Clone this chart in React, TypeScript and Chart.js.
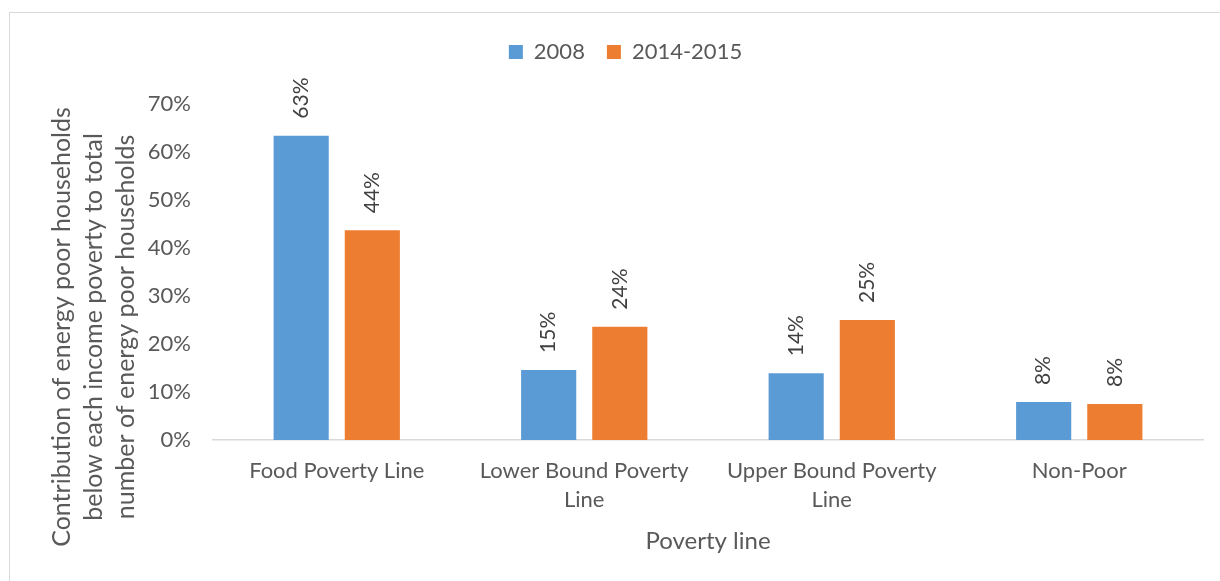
import React, { useEffect, useRef } from "react";
import { Chart, registerables } from "chart.js";

Chart.register(...registerables);

// Categories (multi-line tick labels) and series values, in percent
const categories: string[][] = [
  ["Food Poverty Line"],
  ["Lower Bound Poverty", "Line"],
  ["Upper Bound Poverty", "Line"],
  ["Non-Poor"],
];
const seriesNames = ["2008", "2014-2015"];
const values2008 = [63.4, 14.6, 13.9, 7.9];
const values2014 = [43.7, 23.6, 25.0, 7.5];
const yTicks = [0, 10, 20, 30, 40, 50, 60, 70];
const yTitleLines = [
  "Contribution of energy poor households",
  "below each income poverty to total",
  "number of energy poor households",
];
const xTitle = "Poverty line";

const FONT = "Lato, 'Open Sans', sans-serif";
const TEXT = "#595959";
const LABEL = "#404040";
const BLUE = "#5B9BD5";
const ORANGE = "#ED7D31";
const AXIS = "#D9D9D9";

// Rotated value labels above each bar
const valueLabels = {
  id: "valueLabels",
  afterDatasetsDraw(chart: any) {
    const ctx = chart.ctx;
    ctx.save();
    ctx.font = `21px ${FONT}`;
    ctx.fillStyle = LABEL;
    ctx.textAlign = "left";
    ctx.textBaseline = "middle";
    chart.data.datasets.forEach((ds: any, di: number) => {
      const meta = chart.getDatasetMeta(di);
      meta.data.forEach((bar: any, i: number) => {
        const v = ds.data[i];
        ctx.save();
        ctx.translate(bar.x, bar.y - 17);
        ctx.rotate(-Math.PI / 2);
        ctx.fillText(`${Math.round(v)}%`, 0, 0);
        ctx.restore();
      });
    });
    ctx.restore();
  },
};

// Extra space under the legend and a small rightward nudge of the legend row
const legendSpacing = {
  id: "legendSpacing",
  beforeLayout(chart: any) {
    const legend = chart.legend;
    if (legend && !legend.__spaced) {
      const fit = legend.fit;
      legend.fit = function () {
        fit.call(this);
        this.height += 31;
      };
      legend.__spaced = true;
    }
  },
  afterLayout(chart: any) {
    if (chart.legend) {
      chart.legend.left += 24;
      chart.legend.right += 24;
    }
  },
};

// Axis titles: three-line vertical title on the left, single line below
const axisTitles = {
  id: "axisTitles",
  afterDraw(chart: any) {
    const ctx = chart.ctx;
    const area = chart.chartArea;
    ctx.save();
    ctx.fillStyle = TEXT;
    ctx.textAlign = "center";
    ctx.textBaseline = "middle";
    ctx.font = `25px ${FONT}`;
    yTitleLines.forEach((line, i) => {
      ctx.save();
      ctx.translate(62 + i * 32, 327);
      ctx.rotate(-Math.PI / 2);
      ctx.fillText(line, 0, 0);
      ctx.restore();
    });
    ctx.font = `24px ${FONT}`;
    ctx.fillText(xTitle, (area.left + area.right) / 2, 541);
    ctx.restore();
  },
};

export default function App() {
  const canvasRef = useRef<HTMLCanvasElement | null>(null);

  useEffect(() => {
    if (!canvasRef.current) return;
    const chart = new Chart(canvasRef.current, {
      type: "bar",
      data: {
        labels: categories,
        datasets: [
          {
            label: seriesNames[0],
            data: values2008,
            backgroundColor: BLUE,
            borderWidth: 0,
            categoryPercentage: 0.575,
            barPercentage: 0.775,
          },
          {
            label: seriesNames[1],
            data: values2014,
            backgroundColor: ORANGE,
            borderWidth: 0,
            categoryPercentage: 0.575,
            barPercentage: 0.775,
          },
        ],
      },
      options: {
        responsive: false,
        animation: false,
        layout: { padding: { top: 19, right: 17, bottom: 0, left: 0 } },
        plugins: {
          legend: {
            position: "top",
            labels: {
              boxWidth: 14,
              boxHeight: 14,
              padding: 22,
              color: TEXT,
              font: { family: FONT, size: 22 },
            },
          },
          tooltip: { enabled: false },
        },
        scales: {
          x: {
            grid: { display: false, drawTicks: false },
            border: { display: true, color: AXIS, width: 1.5 },
            ticks: {
              color: TEXT,
              font: { family: FONT, size: 22, lineHeight: 1.32 },
              padding: 16,
              maxRotation: 0,
              autoSkip: false,
            },
            afterFit: (s: any) => {
              s.height = 141;
            },
          },
          y: {
            min: 0,
            max: 70,
            afterBuildTicks: (s: any) => {
              s.ticks = yTicks.map((v) => ({ value: v }));
            },
            grid: { display: false, drawTicks: false },
            border: { display: false },
            ticks: {
              color: TEXT,
              font: { family: FONT, size: 22 },
              padding: 22,
              callback: (v: any) => `${v}%`,
            },
            afterFit: (s: any) => {
              s.width = 213;
            },
          },
        },
      },
      plugins: [valueLabels, legendSpacing, axisTitles],
    });
    return () => chart.destroy();
  }, []);

  return (
    <div
      style={{
        position: "absolute",
        left: 0,
        top: 0,
        width: 1220,
        height: 581,
        overflow: "hidden",
        background: "#ffffff",
      }}
    >
      <div
        style={{
          position: "absolute",
          left: 9,
          top: 12,
          width: 1300,
          height: 700,
          border: "1px solid #D9D9D9",
        }}
      />
      <canvas
        ref={canvasRef}
        width={1220}
        height={581}
        style={{ position: "absolute", left: 0, top: 0 }}
      />
    </div>
  );
}
